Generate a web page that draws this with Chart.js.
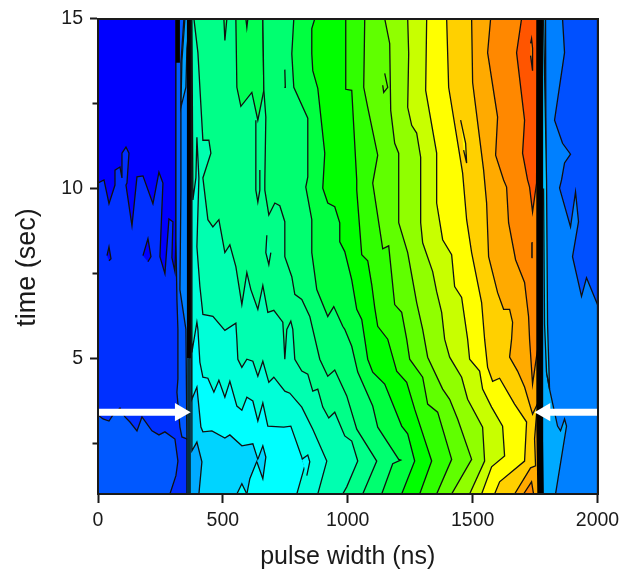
<!DOCTYPE html>
<html>
<head>
<meta charset="utf-8">
<title>pulse width contour</title>
<script src="https://cdn.jsdelivr.net/npm/chart.js@4"></script>
<style>
    html, body { margin: 0; padding: 0; background: #fff; }
    #wrap { width: 623px; height: 572px; }
</style>
</head>
<body>
<div id="wrap"><canvas id="contourChart" width="623" height="572"></canvas></div>
<script>
// axis ticks
const xMajorTicks = [0, 500, 1000, 1500, 2000];
const xMinorTicks = [250, 750, 1250, 1750];
const yMajorTicks = [5, 10, 15];
const yMinorTicks = [2.5, 7.5, 12.5];

// contour lines, [pulse width, time]
const plotBox = [[0, 15], [0, 1], [2000, 1], [2000, 15]];
const topLeftEdge = [[0, 10.16], [24, 10.25], [44, 9.55], [68, 10.10], [68, 10.54], [88, 10.63], [96, 10.31], [96, 11.04], [112, 11.22], [124, 11.04], [116, 10.16], [112, 10.10], [136, 8.90], [156, 10.34], [180, 10.37], [220, 9.55], [244, 10.48], [260, 10.16], [248, 7.99], [268, 7.49], [284, 9.10], [300, 9.02], [296, 7.96], [308, 7.55], [312, 8.49], [312, 15], [0, 15]];
const bottomLeftEdge = [[0, 3.33], [20, 3.21], [44, 3.15], [60, 3.33], [88, 3.53], [108, 3.27], [128, 3.12], [156, 2.86], [176, 3.27], [216, 2.86], [244, 2.74], [268, 2.83], [308, 2.62], [320, 1.97], [312, 1.54], [288, 1], [0, 1]];
const stripA = [[312, 15], [312, 8.5], [316, 6.73], [320, 5.85], [320, 4.39], [316, 4.0], [328, 2.97], [336, 2.68], [356, 2.62], [356, 1]];
const stripB = [[344, 15], [332, 13.7], [332, 9.95], [328, 7.02], [352, 5.85], [356, 2.62], [368, 2.62], [368, 15]];
const wedge = [[348, 15], [336, 13.77], [332, 12.39], [352, 12.98], [356, 14.13], [368, 15]];
const contourBase = [[368, 15], [368, 1]];
const contourG = [[376, 15], [376, 2.27], [396, 2.53], [416, 1.95], [404, 1]];
const contourF = [[376, 15], [376, 3.79], [396, 4.15], [412, 2.97], [420, 2.83], [456, 2.86], [508, 2.65], [528, 2.74], [576, 2.42], [620, 2.48], [640, 2.02], [632, 1.89], [608, 1.45], [596, 1]];
const contourE = [[376, 15], [376, 5.17], [396, 6.06], [400, 5.85], [408, 4.88], [420, 4.44], [440, 4.41], [464, 4.00], [484, 4.35], [508, 3.85], [528, 4.32], [556, 3.59], [576, 3.47], [596, 3.85], [620, 3.74], [640, 3.15], [660, 3.68], [680, 3.00], [744, 2.97], [772, 3.00], [828, 1.83], [796, 1]];
const contourD = [[376, 15], [380, 9.66], [392, 10.31], [396, 11.51], [404, 10.31], [396, 8.28], [408, 7.11], [420, 6.29], [460, 6.23], [508, 5.82], [552, 6.03], [556, 5.56], [560, 4.97], [576, 4.73], [596, 4.97], [620, 4.91], [640, 4.47], [660, 4.91], [684, 4.29], [704, 4.44], [748, 4.03], [768, 3.97], [816, 3.56], [860, 2.91], [916, 1.97], [880, 1]];
const contourA = [[384, 15], [400, 14.0], [420, 11.42], [444, 11.42], [452, 11.04], [420, 10.31], [440, 9.08], [460, 8.87], [484, 9.08], [508, 8.11], [528, 8.34], [552, 7.70], [576, 6.58], [596, 7.52], [612, 7.02], [640, 6.44], [660, 7.14], [680, 6.35], [704, 6.41], [740, 6.06], [744, 5.56], [748, 4.97], [756, 5.85], [772, 6.09], [780, 5.85], [788, 4.97], [816, 4.62], [840, 4.53], [860, 4.03], [880, 4.09], [900, 3.56], [924, 3.24], [948, 3.41], [988, 2.71], [1016, 2.56], [1040, 1.97], [996, 1.21], [980, 1]];
const contourU = [[552, 15], [556, 12.98], [572, 12.42], [616, 12.83], [640, 12.01], [664, 12.89], [660, 15]];
const contourB = [[660, 15], [664, 12.89], [672, 12.10], [668, 10.25], [668, 9.95], [684, 9.22], [708, 9.57], [728, 9.49], [748, 9.02], [748, 7.99], [776, 7.40], [788, 6.88], [816, 6.73], [848, 6.23], [860, 5.85], [888, 4.97], [920, 4.47], [948, 4.65], [996, 3.89], [1036, 2.91], [1116, 1.97], [1060, 1]];
const contourC = [[784, 15], [776, 13.97], [784, 12.98], [840, 12.07], [840, 10.34], [832, 10.04], [856, 9.08], [856, 8.11], [876, 7.02], [920, 6.23], [944, 6.52], [980, 5.94], [988, 5.85], [1016, 5.35], [1040, 4.59], [1100, 3.59], [1120, 2.97], [1204, 2.02], [1212, 2.0], [1180, 1.89], [1136, 1]];
const contourH = [[868, 15], [856, 14.71], [856, 13.97], [860, 13.47], [880, 12.95], [908, 11.04], [900, 10.01], [920, 9.57], [948, 9.46], [968, 8.99], [968, 8.43], [988, 8.14], [1016, 7.31], [1036, 6.44], [1056, 6.14], [1068, 5.56], [1080, 4.97], [1100, 4.59], [1148, 4.24], [1216, 3.00], [1240, 2.77], [1268, 1.97], [1216, 1]];
const contourI = [[992, 15], [992, 12.92], [1016, 12.89], [1036, 10.25], [1036, 9.95], [1056, 8.05], [1080, 7.87], [1096, 7.17], [1108, 6.49], [1120, 5.94], [1160, 5.56], [1196, 4.62], [1236, 4.29], [1268, 3.50], [1336, 1.97], [1288, 1]];
const contourJ = [[1068, 15], [1064, 12.98], [1080, 12.39], [1120, 10.98], [1100, 10.16], [1140, 8.22], [1164, 8.31], [1188, 6.58], [1216, 6.35], [1236, 5.56], [1248, 4.97], [1300, 4.44], [1320, 3.65], [1360, 3.41], [1416, 2.02], [1356, 1]];
const contourK = [[1148, 15], [1168, 14.27], [1172, 12.30], [1188, 11.33], [1204, 11.04], [1204, 8.99], [1240, 8.11], [1276, 6.64], [1300, 5.85], [1320, 5.03], [1380, 4.09], [1408, 3.79], [1440, 3.21], [1496, 2.02], [1416, 1]];
const contourL = [[1240, 15], [1244, 13.97], [1240, 12.39], [1256, 11.86], [1276, 11.63], [1292, 10.92], [1292, 8.99], [1300, 8.40], [1340, 7.55], [1356, 6.96], [1376, 6.35], [1388, 5.56], [1408, 5.03], [1456, 4.44], [1480, 3.79], [1540, 2.97], [1548, 1.97], [1488, 1]];
const contourM = [[1316, 15], [1312, 12.89], [1356, 11.04], [1356, 9.57], [1380, 8.49], [1416, 8.05], [1428, 7.11], [1456, 6.79], [1480, 5.56], [1488, 4.97], [1528, 4.62], [1540, 4.09], [1576, 3.56], [1620, 3.00], [1628, 2.12], [1576, 1.80], [1536, 1]];
const contourN = [[1396, 15], [1404, 12.98], [1460, 10.45], [1476, 9.08], [1496, 8.11], [1536, 6.64], [1548, 5.56], [1560, 4.73], [1580, 4.32], [1608, 4.41], [1668, 3.65], [1716, 3.12], [1708, 1.97], [1608, 1.36], [1588, 1]];
const contourO = [[1496, 15], [1500, 13.12], [1544, 10.54], [1556, 9.57], [1564, 7.99], [1600, 6.93], [1624, 6.44], [1648, 6.44], [1660, 6.06], [1656, 5.56], [1648, 5.03], [1680, 4.62], [1708, 4.15], [1740, 3.35], [1768, 3.79], [1768, 15]];
const contourP = [[1572, 15], [1560, 14.0], [1600, 12.10], [1592, 10.98], [1624, 10.25], [1636, 10.04], [1644, 8.99], [1672, 7.90], [1708, 7.23], [1724, 6.23], [1728, 5.56], [1740, 4.24], [1760, 5.26], [1760, 15]];
const contourQ = [[1696, 15], [1676, 14.0], [1708, 12.01], [1700, 11.04], [1720, 10.25], [1728, 10.04], [1740, 9.31], [1756, 10.16], [1760, 15]];
const bottomGold = [[1668, 1], [1732, 1.77], [1752, 1.83], [1748, 2.62], [1756, 3.35], [1768, 3.35], [1768, 1]];
const bottomOrange = [[1704, 1], [1736, 1.36], [1744, 1]];
const rightBase = [[1780, 15], [1780, 1]];
const rightEdge = [[1792, 15], [1796, 4.59], [1808, 4.09], [1840, 3.0], [1852, 2.86], [1868, 3.21], [1876, 3.0], [1832, 1]];
const rightSliver = [[1784, 15], [1796, 10.25], [1800, 6.0], [1808, 4.09], [1796, 4.59], [1788, 6.0], [1784, 10.0]];
const topRightEdge = [[1860, 15], [1868, 14.0], [1828, 12.01], [1860, 11.33], [1892, 11.01], [1868, 10.75], [1856, 10.25], [1848, 10.01], [1892, 8.87], [1912, 9.90], [1924, 9.02], [1900, 7.99], [1936, 6.82], [1956, 7.37], [2000, 6.58], [2000, 15]];

// small closed islands
const islandA = [[36, 8.02], [44, 8.28], [52, 7.93], [44, 7.87]];
const islandB = [[180, 8.02], [200, 8.52], [212, 7.99], [200, 7.84]];
const islandC = [[640, 2.02], [660, 2.42], [672, 2.09], [660, 1.45], [636, 1.95]];
const islandD = [[556, 1], [576, 1.30], [596, 1]];
const islandE = [[816, 2.02], [840, 2.15], [848, 1.95], [836, 1.54]];
const islandF = [[632, 12.01], [632, 10.54], [632, 9.95], [640, 9.60], [648, 9.95], [648, 10.54]];
const islandG = [[676, 8.62], [672, 8.11], [684, 7.76], [692, 8.11]];
const islandH = [[504, 15], [508, 14.36], [516, 15]];
const islandI = [[592, 15], [596, 14.74], [600, 15]];
const islandJ = [[748, 13.5], [750, 12.98], [746, 12.98]];
const islandK = [[1148, 13.39], [1160, 12.98], [1144, 12.83], [1140, 13.04]];
const islandL = [[1452, 12.01], [1472, 11.33], [1476, 10.75], [1464, 11.13]];
const islandM = [[1732, 14.27], [1736, 14.41], [1740, 14.13], [1740, 13.47], [1732, 13.91]];
const islandN = [[1736, 8.40], [1738, 8.40], [1738, 7.96], [1736, 7.96]];

// thick dark bundles where the contours pile up
const bundleLeft = [[320, 15], [320, 13.7]];
const bundleMid = [[364, 15], [364, 5.0]];
const bundleLow = [[364, 5.0], [364, 1]];
const bundleRight = [[1768, 15], [1768, 3.0], [1772, 1]];

// arrows at the 3.4 s line
const arrowLeft = [[0, 3.41], [329, 3.41]];
const arrowRight = [[2000, 3.41], [1790, 3.41]];

const toRight = pts => pts.concat([[2000, 1], [2000, 15]]);

const layers = [
    [plotBox, '#0030ff', 0],
    [topLeftEdge, '#0000ff'],
    [islandA, '#0000ff'],
    [islandB, '#0000ff'],
    [bottomLeftEdge, '#0058ff'],
    [toRight(stripA), '#0058ff'],
    [stripB, '#0080ff'],
    [wedge, '#00a0ff'],
    [toRight(contourBase), '#00aaff'],
    [toRight(contourG), '#00d4ff'],
    [toRight(contourF), '#00ffff'],
    [islandC, '#00d4ff'],
    [islandD, '#00ffff'],
    [toRight(contourE), '#00ffd8'],
    [islandE, '#00ffff'],
    [toRight(contourD), '#00ffb0'],
    [toRight(contourA), '#00ff88'],
    [contourU, '#00ff55'],
    [islandF, '#00ff88'],
    [islandH, '#00ff55'],
    [islandI, '#00ff33'],
    [islandG, '#00ffb0'],
    [toRight(contourB), '#00ff70'],
    [toRight(contourC), '#00ff40'],
    [islandJ, '#00ff40'],
    [toRight(contourH), '#00ff00'],
    [toRight(contourI), '#30ff00'],
    [toRight(contourJ), '#60ff00'],
    [toRight(contourK), '#90ff00'],
    [islandK, '#60ff00'],
    [toRight(contourL), '#c8ff00'],
    [toRight(contourM), '#ffff00'],
    [toRight(contourN), '#ffd000'],
    [islandL, '#ffff00'],
    [toRight(contourO), '#ffaa00'],
    [contourP, '#ff8800'],
    [bottomGold, '#ffaa00'],
    [bottomOrange, '#ff8800'],
    [contourQ, '#ff5500'],
    [islandN, '#000000'],
    [islandM, '#ff8800'],
    [toRight(rightBase), '#00aaff'],
    [toRight(rightEdge), '#0080ff'],
    [rightSliver, '#00c8ff'],
    [topRightEdge, '#0050ff']
];

const toPoints = pts => pts.map(p => ({ x: p[0], y: p[1] }));

// fill:'shape' lets every band be a plain closed outline in data units
const bandSets = layers.map((layer, i) => ({
    data: toPoints(layer[0]),
    backgroundColor: layer[1],
    borderColor: '#101010',
    borderWidth: layer[2] === 0 ? 0 : 1.3,
    fill: 'shape',
    pointRadius: 0,
    tension: 0,
    order: 1000 - i
}));

function bundle(pts, color, width, order) {
    return { data: toPoints(pts), borderColor: color, borderWidth: width, fill: false, pointRadius: 0, order: order };
}

function arrow(pts, rotation) {
    return {
        data: toPoints(pts),
        borderColor: '#ffffff',
        borderWidth: 7,
        fill: false,
        pointStyle: 'triangle',
        pointRotation: rotation,
        pointRadius: [0, 10.5],
        pointBackgroundColor: '#ffffff',
        pointBorderColor: '#ffffff',
        pointBorderWidth: 0,
        order: 1
    };
}

const lineColor = '#1a1a1a';
const tickFont = { family: '"Liberation Sans", Arial, sans-serif', size: 19.5 };
const border = { color: lineColor, width: 2, z: 1 };

// plain axis used only as one side of the frame
const frameAxis = (position, axis) => ({
    axis: axis,
    position: position,
    min: axis === 'x' ? 0 : 1,
    max: axis === 'x' ? 2000 : 15,
    border: border,
    grid: { display: false, drawTicks: false },
    ticks: { display: false },
    afterFit: s => { if (axis === 'x') s.height = 0; else s.width = 0; }
});

// short ticks drawn by an extra axis sitting on the real one
const minorAxis = (axis, values) => ({
    axis: axis,
    position: axis === 'x' ? { y: 1 } : { x: 0 },
    min: axis === 'x' ? 0 : 1,
    max: axis === 'x' ? 2000 : 15,
    border: { display: false },
    grid: { drawOnChartArea: false, tickLength: 5.5, tickWidth: 2, tickColor: lineColor },
    ticks: { display: false },
    afterBuildTicks: s => { s.ticks = values.map(v => ({ value: v })); }
});

new Chart(document.getElementById('contourChart'), {
    type: 'line',
    data: {
        datasets: bandSets.concat([
            bundle(bundleLeft, '#000000', 4, 20),
            bundle(bundleMid, '#000000', 4, 20),
            bundle(bundleLow, '#06303c', 3.5, 20),
            bundle(bundleRight, '#000000', 6.5, 20),
            arrow(arrowLeft, 90),
            arrow(arrowRight, -90)
        ])
    },
    options: {
        responsive: false,
        animation: false,
        layout: { autoPadding: false, padding: { top: 18, right: 25.5, left: 0, bottom: 0 } },
        plugins: { legend: { display: false }, tooltip: { enabled: false } },
        scales: {
            x: {
                type: 'linear',
                min: 0,
                max: 2000,
                border: border,
                grid: { drawOnChartArea: false, tickLength: 9, tickWidth: 2, tickColor: lineColor },
                afterBuildTicks: s => { s.ticks = xMajorTicks.map(v => ({ value: v })); },
                afterFit: s => { s.height = 78; s.paddingLeft = 0; s.paddingRight = 0; },
                ticks: { font: tickFont, color: lineColor, maxRotation: 0, padding: 6, callback: v => String(v) },
                title: { display: true, text: 'pulse width (ns)', font: { family: tickFont.family, size: 25 }, color: lineColor, padding: { top: 4, bottom: 0 } }
            },
            y: {
                type: 'linear',
                min: 1,
                max: 15,
                border: border,
                grid: { drawOnChartArea: false, tickLength: 8, tickWidth: 2, tickColor: lineColor },
                afterBuildTicks: s => { s.ticks = yMajorTicks.map(v => ({ value: v })); },
                afterFit: s => { s.width = 98; },
                ticks: { font: tickFont, color: lineColor, padding: 7, callback: v => String(v) },
                title: { display: true, text: 'time (sec)   ', font: { family: tickFont.family, size: 27 }, color: lineColor, padding: { top: 11, bottom: 0 } }
            },
            xTop: frameAxis('top', 'x'),
            yRight: frameAxis('right', 'y'),
            xMinor: minorAxis('x', xMinorTicks),
            yMinor: minorAxis('y', yMinorTicks)
        }
    }
});
</script>
</body>
</html>
